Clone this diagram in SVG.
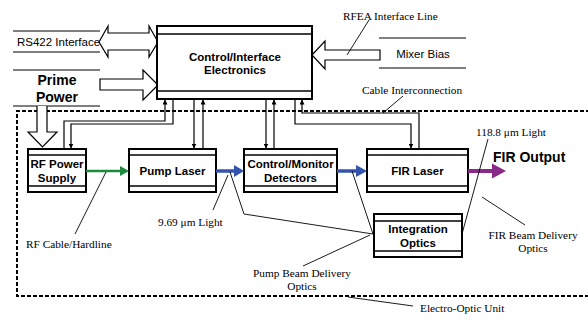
<svg xmlns="http://www.w3.org/2000/svg" width="588" height="329" viewBox="0 0 588 329">
  <style>
    .box { fill: #fff; stroke: #000; stroke-width: 2; }
    .band { fill: none; stroke: #000; stroke-width: 1.3; }
    .hollow { fill: #fff; stroke: #000; stroke-width: 1.2; stroke-linejoin: miter; }
    .rule { stroke: #000; stroke-width: 1.2; fill: none; }
    .wire { fill: none; stroke: #000; stroke-width: 1.2; }
    .lead { fill: none; stroke: #000; stroke-width: 0.9; }
    .frame { fill: none; stroke: #000; stroke-width: 2; stroke-dasharray: 4 2; }
    .lbl { font-family: "Liberation Sans", Arial, sans-serif; font-weight: bold; font-size: 11.5px; text-anchor: middle; fill: #000; }
    .big { font-family: "Liberation Sans", Arial, sans-serif; font-weight: bold; font-size: 14px; fill: #000; }
    .sans { font-family: "Liberation Sans", Arial, sans-serif; font-size: 11.5px; fill: #000; }
    .note { font-family: "Liberation Serif", "Times New Roman", serif; font-size: 11.3px; fill: #000; }
  </style>
  <defs>
    <marker id="tip" viewBox="0 0 10 10" refX="10" refY="5" markerWidth="5" markerHeight="5" orient="auto" markerUnits="userSpaceOnUse">
      <path d="M0,0 L10,5 L0,10 Z" fill="#000"/>
    </marker>
  </defs>

  <rect width="588" height="329" fill="#fff"/>

  <!-- Electro-Optic Unit enclosure -->
  <path class="frame" d="M590,111 H17 V296 H590"/>

  <!-- external interface labels -->
  <g id="rs422">
    <line class="rule" x1="13" y1="31" x2="100" y2="31"/>
    <line class="rule" x1="13" y1="52" x2="100" y2="52"/>
    <text class="sans" x="17" y="46">RS422 Interface</text>
    <path class="hollow" d="M99,42 L108,26 V33 H149 V26 L158,42 L149,57 V50 H108 V57 Z"/>
  </g>

  <g id="prime-power">
    <line class="rule" x1="13" y1="70" x2="100" y2="70"/>
    <line class="rule" x1="13" y1="106" x2="100" y2="106"/>
    <text class="big" x="57" y="85" text-anchor="middle">Prime</text>
    <text class="big" x="57" y="102" text-anchor="middle">Power</text>
    <path class="hollow" d="M100,79 H143 V70 L158,85 L143,100 V90 H100 Z"/>
    <path class="hollow" d="M37,106 V132 H28 L42.5,147 L57,132 H47 V106"/>
  </g>

  <g id="mixer-bias">
    <line class="rule" x1="379" y1="38" x2="466" y2="38"/>
    <line class="rule" x1="379" y1="68" x2="466" y2="68"/>
    <text class="sans" x="423" y="58" text-anchor="middle">Mixer Bias</text>
    <path class="hollow" d="M312,55 L325,41 V50 H380 V60 H325 V69 Z"/>
  </g>

  <!-- system blocks -->
  <g id="control-interface">
    <rect class="box" x="157" y="26" width="155" height="73"/>
    <line class="band" x1="157" y1="34" x2="312" y2="34"/>
    <line class="band" x1="157" y1="91" x2="312" y2="91"/>
    <text class="lbl" x="235" y="61">Control/Interface</text>
    <text class="lbl" x="235" y="74">Electronics</text>
  </g>

  <g id="rf-power-supply">
    <rect class="box" x="28" y="149" width="58" height="43"/>
    <line class="band" x1="28" y1="155" x2="86" y2="155"/>
    <line class="band" x1="28" y1="186" x2="86" y2="186"/>
    <text class="lbl" x="57" y="168">RF Power</text>
    <text class="lbl" x="57" y="182">Supply</text>
  </g>

  <g id="pump-laser">
    <rect class="box" x="129" y="149" width="87" height="43"/>
    <line class="band" x1="129" y1="155" x2="216" y2="155"/>
    <line class="band" x1="129" y1="186" x2="216" y2="186"/>
    <text class="lbl" x="172.5" y="175">Pump Laser</text>
  </g>

  <g id="control-monitor">
    <rect class="box" x="244" y="149" width="93" height="43"/>
    <line class="band" x1="244" y1="155" x2="337" y2="155"/>
    <line class="band" x1="244" y1="186" x2="337" y2="186"/>
    <text class="lbl" x="290.5" y="168">Control/Monitor</text>
    <text class="lbl" x="290.5" y="182">Detectors</text>
  </g>

  <g id="fir-laser">
    <rect class="box" x="367" y="149" width="101" height="43"/>
    <line class="band" x1="367" y1="155" x2="468" y2="155"/>
    <line class="band" x1="367" y1="186" x2="468" y2="186"/>
    <text class="lbl" x="417.5" y="175">FIR Laser</text>
  </g>

  <g id="integration-optics">
    <rect class="box" x="374" y="214" width="88" height="43"/>
    <line class="band" x1="374" y1="221" x2="462" y2="221"/>
    <line class="band" x1="374" y1="251" x2="462" y2="251"/>
    <text class="lbl" x="418" y="233">Integration</text>
    <text class="lbl" x="418" y="247">Optics</text>
  </g>

  <!-- connectors -->
  <g id="connectors">
    <!-- control cabling -->
    <path class="wire" d="M64,149 V121 H165 V99.5" marker-end="url(#tip)"/>
    <path class="wire" d="M173,99 V124 H71 V148.5" marker-end="url(#tip)"/>
    <path class="wire" d="M194,99 V148.5" marker-end="url(#tip)"/>
    <path class="wire" d="M203,149 V99.5" marker-end="url(#tip)"/>
    <path class="wire" d="M266,99 V148.5" marker-end="url(#tip)"/>
    <path class="wire" d="M274,149 V99.5" marker-end="url(#tip)"/>
    <path class="wire" d="M419,149 V113 H302 V99.5" marker-end="url(#tip)"/>
    <path class="wire" d="M295,99 V124 H411 V148.5" marker-end="url(#tip)"/>

    <!-- RF drive -->
    <line x1="86" y1="171" x2="121" y2="171" stroke="#1e8a3c" stroke-width="2.5"/>
    <path d="M120,166 L129,171 L120,176 Z" fill="#1e8a3c"/>
    <!-- pump beam -->
    <line x1="216" y1="171" x2="236" y2="171" stroke="#3453ad" stroke-width="3.5"/>
    <path d="M234,165 L244,171 L234,177 Z" fill="#3453ad"/>
    <line x1="337" y1="171" x2="358" y2="171" stroke="#3453ad" stroke-width="3.5"/>
    <path d="M356,165 L367,171 L356,177 Z" fill="#3453ad"/>
    <!-- FIR output beam -->
    <line x1="468" y1="171" x2="494" y2="171" stroke="#8a2a88" stroke-width="4"/>
    <path d="M492,163.5 L506,171 L492,178.5 Z" fill="#8a2a88"/>

    <!-- beam delivery optics paths -->
    <path class="lead" d="M230,172 L244,214 L373,234"/>
    <line class="lead" x1="352" y1="171" x2="373" y2="234"/>
    <line class="lead" x1="488" y1="139" x2="462" y2="234"/>

    <!-- label leaders -->
    <line class="lead" x1="369" y1="20" x2="347" y2="55"/>
    <line class="lead" x1="403" y1="96" x2="383" y2="113"/>
    <line class="lead" x1="106" y1="172" x2="75" y2="234"/>
    <line class="lead" x1="228" y1="175" x2="213" y2="210"/>
    <line class="lead" x1="370" y1="235" x2="303" y2="266"/>
    <line class="lead" x1="482" y1="197" x2="525" y2="225"/>
    <line class="lead" x1="348" y1="297" x2="413" y2="306"/>
  </g>

  <!-- annotations -->
  <text class="note" x="343" y="20">RFEA Interface Line</text>
  <text class="note" x="362" y="94">Cable Interconnection</text>
  <text class="note" x="476" y="136">118.8 μm Light</text>
  <text class="big" x="493" y="162">FIR Output</text>
  <text class="note" x="158" y="226">9.69 μm Light</text>
  <text class="note" x="26" y="248">RF Cable/Hardline</text>
  <text class="note" x="302" y="277" text-anchor="middle">Pump Beam Delivery</text>
  <text class="note" x="302" y="290" text-anchor="middle">Optics</text>
  <text class="note" x="533" y="239" text-anchor="middle">FIR Beam Delivery</text>
  <text class="note" x="533" y="252" text-anchor="middle">Optics</text>
  <text class="note" x="420" y="312">Electro-Optic Unit</text>
</svg>
